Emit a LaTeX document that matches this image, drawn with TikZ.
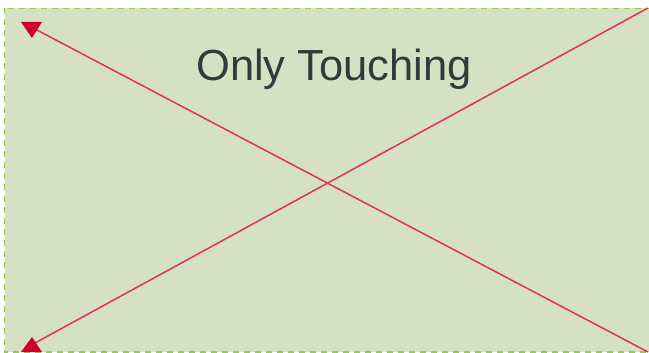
\documentclass[tikz,border=0pt]{standalone}
\usepackage{fontspec}
\setmainfont{Liberation Sans}
\usetikzlibrary{arrows.meta,positioning,calc}
\definecolor{bg}{RGB}{213,224,196}
\definecolor{bd}{RGB}{146,204,74}
\definecolor{ln}{RGB}{222,52,84}
\definecolor{tp}{RGB}{206,0,40}
\definecolor{tx}{RGB}{52,58,56}
\tikzset{frame/.style={draw=bd,fill=bg,line width=1.8pt,dash pattern=on 6pt off 5pt},
 wire/.style={draw=ln,line width=1.5pt},
 head/.style={fill=tp,draw=none},
 title/.style={text=tx,font=\fontsize{43.5}{50}\selectfont,inner sep=0pt}}
\begin{document}
\begin{tikzpicture}[x=1pt,y=-1pt]
\useasboundingbox (0,0) rectangle (649,353);
\path[frame] (4.5,8.5) rectangle (650,352);
\node[title] (lbl) at (334,69) {Only Touching};
\coordinate (tr) at (648,8);
\coordinate (br) at (648,352);
\coordinate (tl) at (35,29);
\coordinate (bl) at (35,343);
\draw[wire] (br)--(tl);
\draw[wire] (tr)--(bl);
\fill[head] (21,22)--(42,22)--(32,38)--cycle;
\fill[head] (21,352)--(42,352)--(32,337)--cycle;
\end{tikzpicture}
\end{document}
